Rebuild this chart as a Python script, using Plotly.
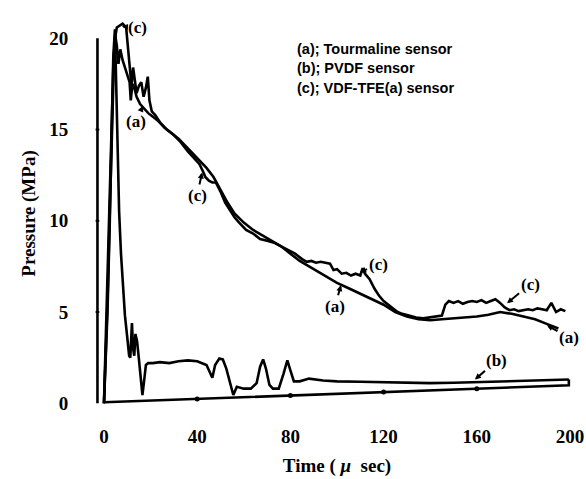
import plotly.graph_objects as go

# ---------------- data ----------------
t_a = [0, 1, 2, 3, 4, 4.8, 5.5, 6.2, 7, 8, 9, 10, 11, 11.5, 12.2, 13, 14, 15.5, 17, 19,
       21, 23, 26, 29, 32, 35, 38, 41, 44, 47, 50, 53, 56, 60, 64, 68, 72, 76, 80, 84,
       88, 92, 96, 100, 105, 110, 115, 120, 125, 130, 135, 140, 145, 150, 155, 160, 165,
       170, 175, 180, 185, 190, 195]
p_a = [0, 4.5, 9.5, 14.5, 18.5, 20.2, 19.6, 18.6, 19.4, 18.8, 18.4, 18.0, 17.6, 16.6, 17.5,
       17.3, 16.8, 16.4, 16.2, 15.9, 15.7, 15.5, 15.1, 14.8, 14.5, 14.1, 13.7, 13.3, 12.9,
       12.4, 11.7, 11.0, 10.4, 9.9, 9.5, 9.2, 8.9, 8.6, 8.2, 7.8, 7.5, 7.2, 6.9, 6.6, 6.3,
       6.0, 5.7, 5.4, 5.0, 4.75, 4.6, 4.55, 4.6, 4.65, 4.7, 4.75, 4.85, 5.0, 4.9, 4.75, 4.6,
       4.35, 4.1]

t_b = [0, 1.5, 2.5, 3.3, 4.0, 4.7, 5.3, 5.8, 6.5, 7.3, 8.2, 9.0, 10.0, 10.8, 11.3, 12.0,
       12.5, 13.0, 13.5, 14.2, 15.0, 15.7, 16.5, 17.2, 18.0, 19.0, 21, 24, 28, 32, 36, 40,
       44, 46.5, 47.7, 49.5, 51, 52.5, 54, 55.5, 57, 60, 63, 65.5, 67, 68.3, 69.5, 71,
       72.5, 75, 77, 78.7, 80, 81.5, 84, 88, 94, 100, 110, 120, 130, 140, 150, 160, 170,
       180, 190, 199.5]
p_b = [0, 5, 10, 15, 19, 20.5, 17.5, 13.5, 10.5, 8.2, 6.2, 4.8, 3.6, 2.6, 2.5, 4.4, 3.0,
       2.6, 3.8, 3.4, 2.4, 1.4, 0.45, 1.2, 2.1, 2.2, 2.2, 2.25, 2.2, 2.3, 2.35, 2.3, 2.1,
       1.4, 2.1, 2.45, 2.4, 1.9, 1.1, 0.45, 0.9, 0.8, 0.8, 1.1, 2.0, 2.4, 1.9, 1.0, 0.8,
       0.8, 1.6, 2.35, 1.8, 1.2, 1.2, 1.35, 1.25, 1.2, 1.18, 1.15, 1.12, 1.1, 1.12, 1.15,
       1.2, 1.22, 1.25, 1.3]

t_c = [0, 1.5, 2.5, 3.5, 4.5, 5.5, 6.5, 8, 9.5, 10.3, 11, 11.8, 12.5, 13.2, 14, 15, 16, 17,
       18, 18.8, 19.5, 20.5, 22, 24, 27, 30, 33, 36, 39, 41, 42.5, 43.5, 45, 46.5, 48, 50,
       52, 54, 56, 58, 61, 64, 67, 70, 73, 76, 79, 82, 85, 87, 89, 91, 93, 95, 97, 98.5,
       100, 102, 104, 106, 108, 110, 111, 112, 114, 116, 118, 120, 122, 124, 126, 128, 131,
       134, 137, 140, 143, 145, 146.5, 148, 150, 152, 154, 156, 158, 160, 162, 164, 166,
       168, 170, 172, 174, 176, 178, 180, 182, 184, 186, 188, 190, 192, 193, 194, 196, 198]
p_c = [0, 5.5, 10.5, 15.5, 19.8, 20.6, 20.7, 20.8, 20.6, 19.5, 18.3, 17.4, 18.4, 17.8,
       17.0, 17.4, 17.6, 16.8, 17.3, 17.9, 16.6, 16.0, 15.8, 15.4, 15.0, 14.7, 14.3, 13.8,
       13.4, 13.1, 12.7, 12.4, 12.2, 12.1, 12.1, 11.6, 11.0, 10.6, 10.2, 9.9, 9.5, 9.3,
       9.0, 8.9, 8.8, 8.6, 8.4, 8.2, 7.9, 7.75, 7.8, 7.7, 7.75, 7.7, 7.65, 7.3, 7.35, 7.1,
       7.15, 7.0, 7.1, 7.0, 7.4, 7.1, 6.8, 6.3, 5.9, 5.6, 5.4, 5.2, 5.0, 4.9, 4.8, 4.7,
       4.65, 4.7, 4.75, 4.8, 5.4, 5.6, 5.5, 5.6, 5.45, 5.55, 5.6, 5.55, 5.65, 5.5, 5.6,
       5.7, 5.5, 5.25, 5.1, 5.15, 5.05, 5.1, 5.15, 5.1, 5.2, 5.15, 5.1, 5.5, 5.2, 5.0,
       5.15, 5.05]

x_ticks = [0, 40, 80, 120, 160, 200]
y_ticks = [0, 5, 10, 15, 20]

legend_lines = ["(a); Tourmaline sensor", "(b); PVDF sensor", "(c); VDF-TFE(a) sensor"]

# curve labels: text, time, pressure of pointed curve point, pixel offset of label
curve_labels = [
    ("(c)", 7.7, 20.65, 16, 1),
    ("(a)", 16.7, 16.3, -7, 16),
    ("(c)", 42.1, 12.65, -5, 23),
    ("(c)", 109.9, 7.18, 18, -8),
    ("(a)", 101.7, 6.47, -6, 21),
    ("(c)", 173.0, 5.48, 23, -19),
    ("(a)", 190.1, 4.27, 22, 12),
    ("(b)", 159.2, 1.3, 22, -19),
]

# baseline (sloped zero line of the scanned record)
base_t = [0, 199.5]
base_p = [0.05, 0.98]

SERIF = "Liberation Serif"
SANS = "Liberation Sans"
LW = 2.6

fig = go.Figure()
for t, p in [(t_a, p_a), (t_b, p_b), (t_c, p_c)]:
    fig.add_trace(go.Scatter(x=t, y=p, mode="lines",
                             line=dict(color="black", width=LW),
                             showlegend=False, hoverinfo="skip"))

# baseline with vertical closing stroke at the right end
fig.add_trace(go.Scatter(x=base_t + [base_t[-1]], y=base_p + [p_b[-1]], mode="lines",
                         line=dict(color="black", width=LW), showlegend=False,
                         hoverinfo="skip"))

# small tick dots on the baseline
tick_dot_t = x_ticks[1:-1]
slope = (base_p[1] - base_p[0]) / (base_t[1] - base_t[0])
fig.add_trace(go.Scatter(x=tick_dot_t, y=[base_p[0] + slope * t for t in tick_dot_t],
                         mode="markers", marker=dict(color="black", size=5),
                         showlegend=False, hoverinfo="skip"))

# vertical pressure axis line (0..20)
fig.add_shape(type="line", x0=-2.8, x1=-2.8, y0=y_ticks[0], y1=y_ticks[-1],
              line=dict(color="black", width=2.6))
for yv in y_ticks[1:-1]:
    fig.add_shape(type="line", x0=-3.6, x1=-2.0, y0=yv, y1=yv,
                  line=dict(color="black", width=2))

for text, t, p, ax, ay in curve_labels:
    fig.add_annotation(x=t, y=p, text=text, showarrow=True, ax=ax, ay=ay,
                       arrowhead=2, arrowsize=0.6, arrowwidth=2, arrowcolor="black",
                       font=dict(family=SERIF, size=17, color="black", weight="bold"),
                       standoff=0, startstandoff=0)

for i, line in enumerate(legend_lines):
    fig.add_annotation(x=82, y=19.4 - 1.05 * i, text=line, showarrow=False,
                       xanchor="left", yanchor="middle",
                       font=dict(family=SANS, size=14.5, color="black", weight="bold"))

fig.update_layout(
    width=586, height=479,
    margin=dict(l=90, r=2, t=10.6, b=63.25),
    paper_bgcolor="white", plot_bgcolor="white",
    xaxis=dict(range=[-6, 206], tickvals=x_ticks, showgrid=False, zeroline=False,
               showline=False, ticks="outside", ticklen=3, tickcolor="rgba(0,0,0,0)",
               tickfont=dict(family=SERIF, size=19, color="black", weight="bold"),
               title=dict(text="Time ( <i>μ</i>  sec)", standoff=12,
                          font=dict(family=SERIF, size=19, color="black", weight="bold"))),
    yaxis=dict(range=[-0.7, 21.5], tickvals=y_ticks, showgrid=False, zeroline=False,
               showline=False, ticks="outside", ticklen=17, tickcolor="rgba(0,0,0,0)",
               tickfont=dict(family=SERIF, size=19, color="black", weight="bold"),
               title=dict(text="Pressure (MPa)", standoff=8,
                          font=dict(family=SERIF, size=19, color="black", weight="bold"))),
)

fig.write_html("out.html", config={"displayModeBar": False},
               post_script="document.body.style.margin='0';document.body.style.overflow='hidden';")
